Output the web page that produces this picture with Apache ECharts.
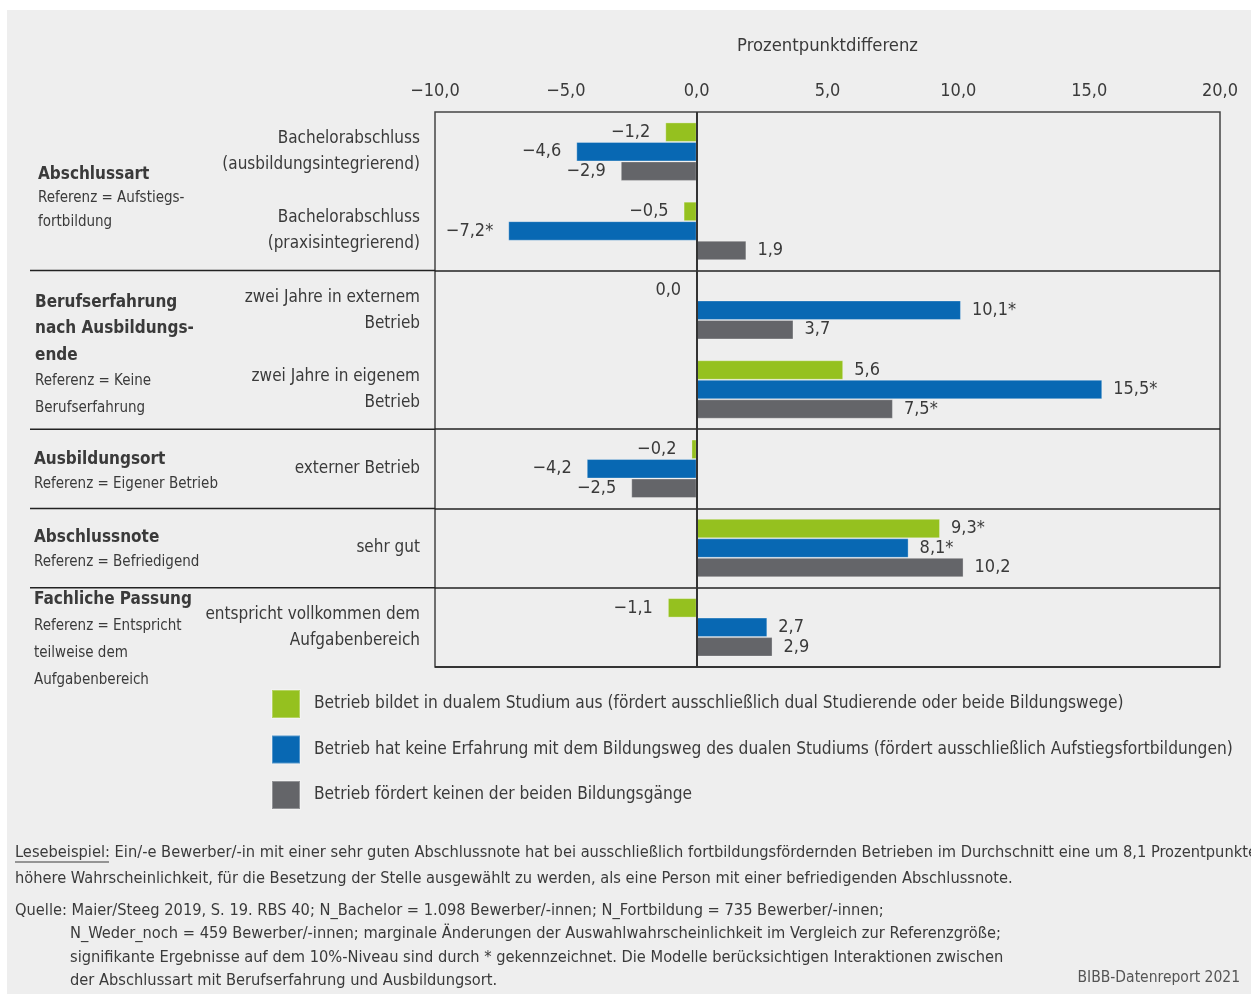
<!DOCTYPE html>
<html><head><meta charset="utf-8">
<script src="https://cdn.jsdelivr.net/npm/echarts@6/dist/echarts.min.js"></script>
<style>html,body{margin:0;padding:0;background:#fff}#c{width:1251px;height:994px}</style>
</head><body><div id="c"></div>
<script>
// ---- data ----
const categories = [
  'Bachelorabschluss\n(ausbildungsintegrierend)',
  'Bachelorabschluss\n(praxisintegrierend)',
  'zwei Jahre in externem\nBetrieb',
  'zwei Jahre in eigenem\nBetrieb',
  'externer Betrieb',
  'sehr gut',
  'entspricht vollkommen dem\nAufgabenbereich'
];
const seriesNames = [
  'Betrieb bildet in dualem Studium aus (fördert ausschließlich dual Studierende oder beide Bildungswege)',
  'Betrieb hat keine Erfahrung mit dem Bildungsweg des dualen Studiums (fördert ausschließlich Aufstiegsfortbildungen)',
  'Betrieb fördert keinen der beiden Bildungsgänge'
];
const dualValues   = [-1.2, -0.5, 0.0, 5.6, -0.2, 9.3, -1.1];
const dualSig      = [0, 0, 0, 0, 0, 1, 0];
const fortValues   = [-4.6, -7.2, 10.1, 15.5, -4.2, 8.1, 2.7];
const fortSig      = [0, 1, 1, 1, 0, 1, 0];
const wederValues  = [-2.9, 1.9, 3.7, 7.5, -2.5, 10.2, 2.9];
const wederSig     = [0, 0, 0, 1, 0, 0, 0];
const axisMin = -10, axisMax = 20, axisInterval = 5;
const axisTitle = 'Prozentpunktdifferenz';
const groupStarts = [2, 4, 5, 6]; // category index where a new group begins
const groupTitles = [['Abschlussart'], ['Berufserfahrung', 'nach Ausbildungs-', 'ende'], ['Ausbildungsort'], ['Abschlussnote'], ['Fachliche Passung']];
const groupRefs = [['Referenz = Aufstiegs-', 'fortbildung'], ['Referenz = Keine', 'Berufserfahrung'], ['Referenz = Eigener Betrieb'], ['Referenz = Befriedigend'], ['Referenz = Entspricht', 'teilweise dem', 'Aufgabenbereich']];
const readingLabel = 'Lesebeispiel:';
const readingText = [
  ' Ein/-e Bewerber/-in mit einer sehr guten Abschlussnote hat bei ausschließlich fortbildungsfördernden Betrieben im Durchschnitt eine um 8,1 Prozentpunkte',
  'höhere Wahrscheinlichkeit, für die Besetzung der Stelle ausgewählt zu werden, als eine Person mit einer befriedigenden Abschlussnote.'
];
const sourceText = [
  'Quelle: Maier/Steeg 2019, S. 19. RBS 40; N_Bachelor = 1.098 Bewerber/-innen; N_Fortbildung = 735 Bewerber/-innen;',
  'N_Weder_noch = 459 Bewerber/-innen; marginale Änderungen der Auswahlwahrscheinlichkeit im Vergleich zur Referenzgröße;',
  'signifikante Ergebnisse auf dem 10%-Niveau sind durch * gekennzeichnet. Die Modelle berücksichtigen Interaktionen zwischen',
  'der Abschlussart mit Berufserfahrung und Ausbildungsort.'
];
const creditText = 'BIBB-Datenreport 2021';

// ---- styles ----
const FONT = "'DejaVu Sans Condensed', 'Liberation Sans Narrow', 'Noto Sans', sans-serif";
const TXT = '#3a3a3a';
const COLORS = ['#95c11f', '#0868b3', '#646569'];

function fmt(v, sig) {
  const s = Math.abs(v).toFixed(1).replace('.', ',');
  return (v < 0 ? '\u2212' : '') + s + (sig ? '*' : '');
}
function makeSeries(name, values, sig, color, withZero) {
  const s = {
    name, type: 'bar', barWidth: 19.5, barGap: '0%',
    itemStyle: { color: color, borderColor: 'rgba(255,255,255,0.3)', borderWidth: 1 },
    label: { show: true, fontFamily: FONT, fontSize: 18, color: TXT,
      formatter: p => fmt(p.value, sig[p.dataIndex]) },
    data: values.map(v => ({ value: v, label: { position: v > 0 ? 'right' : 'left', distance: v > 0 ? 11 : 15 } }))
  };
  if (withZero) {
    s.markLine = { silent: true, symbol: 'none', label: { show: false },
      lineStyle: { color: '#333', width: 2, type: 'solid' }, data: [{ xAxis: 0 }] };
  }
  return s;
}
const isBoundary = (i) => groupStarts.indexOf(i) >= 0;

// left group labels (graphic)
const groupTops = [166, 294, 451, 529, 591];
const groupLeft = [38, 35, 34, 34, 34];
const groupLH = [24, 26.3, 25, 25, 27];
const graphics = [
  { type: 'rect', left: 0, top: 0, shape: { width: 7, height: 994 }, style: { fill: '#fff' }, silent: true },
  { type: 'rect', left: 0, top: 0, shape: { width: 1251, height: 10 }, style: { fill: '#fff' }, silent: true }
];
groupTitles.forEach((t, k) => {
  const lines = t.map(l => '{b|' + l + '}').concat(groupRefs[k].map(l => '{n|' + l + '}'));
  graphics.push({ type: 'text', left: groupLeft[k], top: groupTops[k], silent: true,
    style: { text: lines.join('\n'), fontFamily: FONT, fill: TXT,
      rich: { b: { fontFamily: FONT, fontSize: 17, fontWeight: 'bold', lineHeight: groupLH[k], fill: TXT },
              n: { fontFamily: FONT, fontSize: 15, lineHeight: groupLH[k], fill: TXT } } } });
});
// footer
const FS = 16.3;
graphics.push({ type: 'text', left: 15, top: 840, silent: true,
  style: { text: readingLabel + readingText[0] + '\n' + readingText[1], fontFamily: FONT, fontSize: FS, lineHeight: 26, fill: TXT } });
graphics.push({ type: 'line', silent: true, shape: { x1: 15, y1: 862, x2: 109, y2: 862 }, style: { stroke: TXT, lineWidth: 1 } });
graphics.push({ type: 'text', left: 15, top: 899, silent: true,
  style: { text: sourceText[0], fontFamily: FONT, fontSize: FS, lineHeight: 23.5, fill: TXT } });
graphics.push({ type: 'text', left: 70, top: 922.5, silent: true,
  style: { text: sourceText.slice(1).join('\n'), fontFamily: FONT, fontSize: FS, lineHeight: 23.3, fill: TXT } });
graphics.push({ type: 'text', right: 11, top: 970, silent: true,
  style: { text: creditText, fontFamily: FONT, fontSize: 15.5, fill: '#555' } });

const chart = echarts.init(document.getElementById('c'), null, { renderer: 'canvas' });
chart.setOption({
  backgroundColor: '#eeeeee',
  animation: false,
  textStyle: { fontFamily: FONT },
  grid: { left: 435, right: 31, top: 112, bottom: 327, show: true, borderColor: '#444', borderWidth: 1.5, backgroundColor: 'transparent' },
  legend: {
    orient: 'vertical', left: 271, top: 689, padding: 0, itemWidth: 28, itemHeight: 28, itemGap: 15.5,
    icon: 'rect', selectedMode: false,
    textStyle: { fontFamily: FONT, fontSize: 17.2, color: TXT, padding: [0, 0, 0, 9] },
    data: seriesNames
  },
  xAxis: {
    type: 'value', position: 'top', min: axisMin, max: axisMax, interval: axisInterval,
    name: axisTitle, nameLocation: 'middle', nameGap: 57,
    nameTextStyle: { fontFamily: FONT, fontSize: 18.3, color: TXT },
    axisLine: { show: false }, axisTick: { show: false }, splitLine: { show: false },
    axisLabel: { fontFamily: FONT, fontSize: 18, color: TXT, margin: 12,
      formatter: v => fmt(v, 0) }
  },
  yAxis: {
    type: 'category', inverse: true, data: categories,
    axisLine: { show: false },
    axisTick: { show: false },
    splitLine: { show: true, interval: (i) => isBoundary(i), lineStyle: { color: '#222', width: 1.5 } },
    axisLabel: { fontFamily: FONT, fontSize: 17, color: TXT, margin: 15, lineHeight: 26, align: 'right', interval: 0 }
  },
  graphic: graphics,
  series: [
    makeSeries(seriesNames[0], dualValues, dualSig, COLORS[0], true),
    makeSeries(seriesNames[1], fortValues, fortSig, COLORS[1], false),
    makeSeries(seriesNames[2], wederValues, wederSig, COLORS[2], false)
  ]
});

// extend the group separators to the left label column, using the axis scale
const xGridLeft = chart.convertToPixel({ xAxisIndex: 0 }, axisMin);
const sepLines = groupStarts.map(i => {
  const yA = chart.convertToPixel({ yAxisIndex: 0 }, i - 1);
  const yB = chart.convertToPixel({ yAxisIndex: 0 }, i);
  const y = (yA + yB) / 2;
  return { type: 'line', silent: true, shape: { x1: 30, y1: y, x2: xGridLeft, y2: y }, style: { stroke: '#222', lineWidth: 1.5 } };
});
chart.setOption({ graphic: graphics.concat(sepLines) });
</script></body></html>
